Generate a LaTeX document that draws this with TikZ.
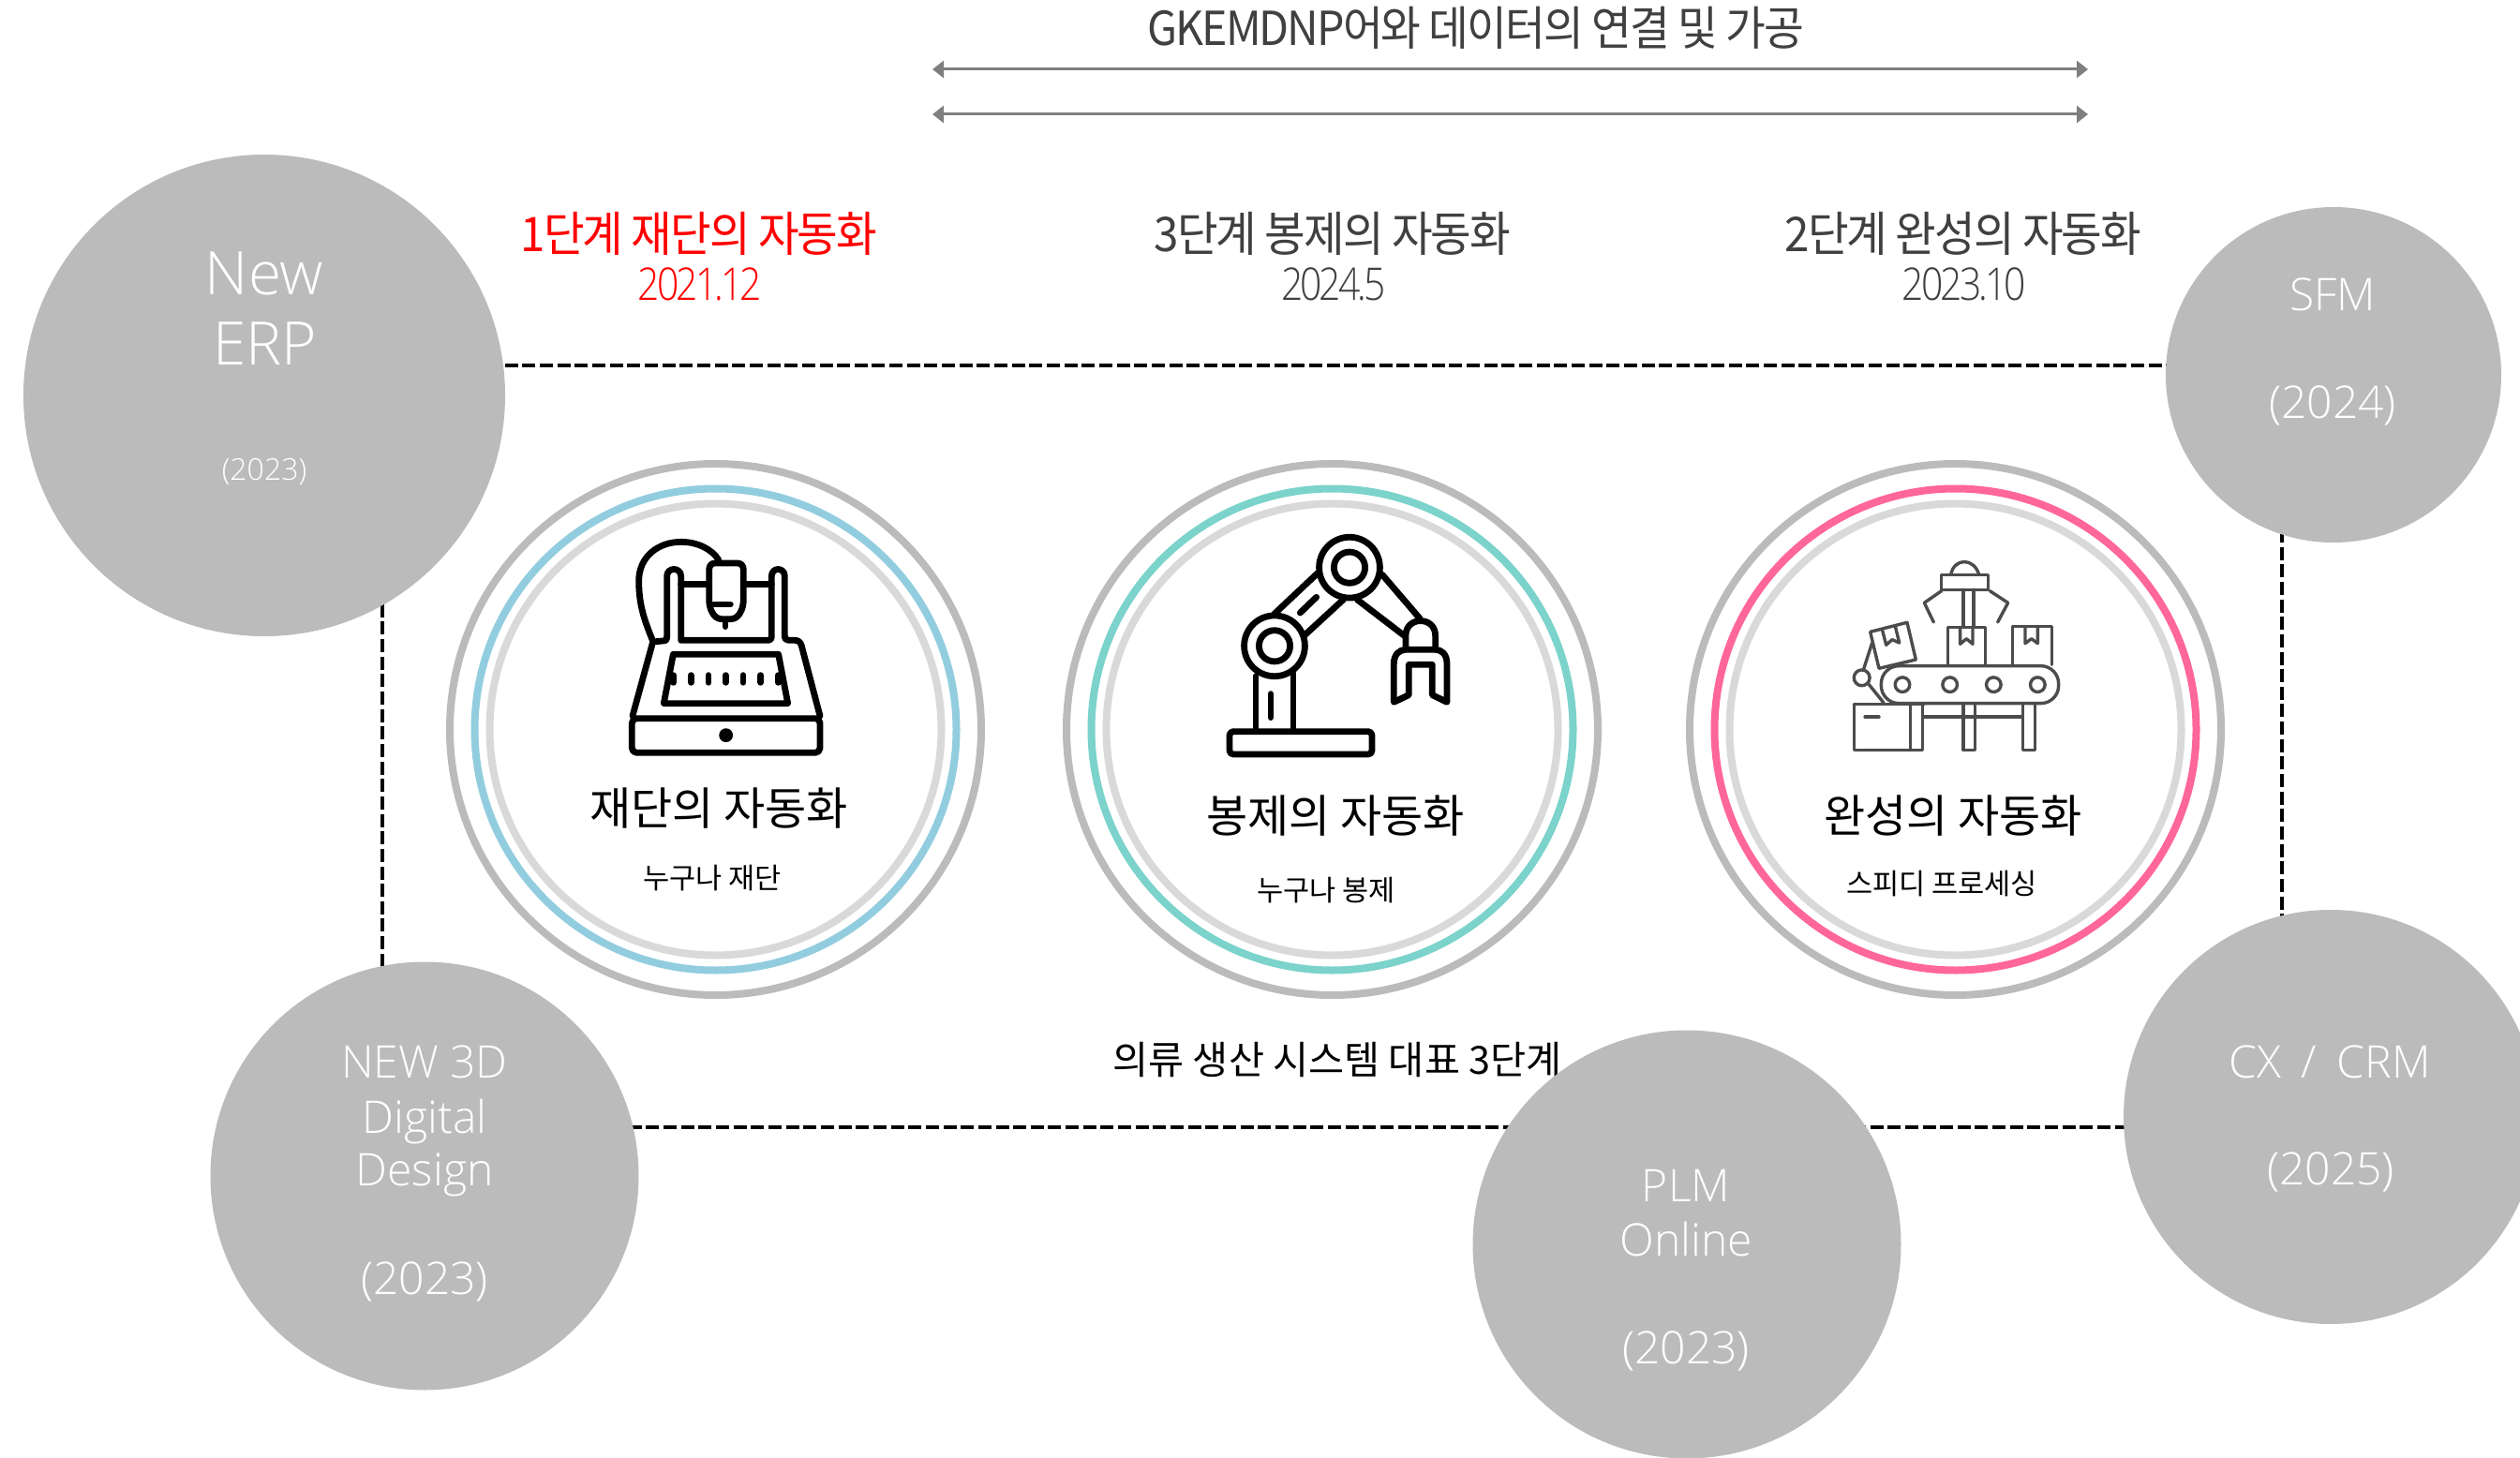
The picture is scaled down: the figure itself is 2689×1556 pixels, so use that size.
\documentclass[tikz,border=0pt]{standalone}
\usepackage{fontspec}
\setmainfont{Open Sans Light}
\newfontfamily\krtight[LetterSpace=-4,FakeStretch=0.93]{Noto Sans CJK KR}
\newfontfamily\krnorm{Noto Sans CJK KR}
\newfontfamily\ltf{Open Sans Light}
\newfontfamily\numtight[LetterSpace=-6,FakeStretch=0.85]{Open Sans Light}
\definecolor{cgray}{HTML}{BBBBBB}
\definecolor{ringlight}{HTML}{D9D9D9}
\definecolor{ringblue}{HTML}{92CDDF}
\definecolor{ringteal}{HTML}{7BD3CB}
\definecolor{ringpink}{HTML}{FF6699}
\definecolor{toptext}{HTML}{404040}
\definecolor{arrowgray}{HTML}{7F7F7F}
\usetikzlibrary{arrows.meta}
\tikzset{
  bubble/.style={circle,fill=cgray,draw=none,inner sep=0pt,minimum size=#1},
  ringo/.style={circle,draw=cgray,line width=4pt,inner sep=0pt,minimum size=567*0.5pt},
  ringc/.style={circle,line width=4pt,inner sep=0pt,minimum size=514*0.5pt},
  ringi/.style={circle,draw=ringlight,line width=4pt,inner sep=0pt,minimum size=482*0.5pt},
  bigw/.style={text=white,font=\ltf\fontsize{32}{32}\selectfont,inner sep=0pt},
  midw/.style={text=white,font=\ltf\fontsize{24}{24}\selectfont,inner sep=0pt},
  smallw/.style={text=white,font=\ltf\fontsize{16}{16}\selectfont,inner sep=0pt},
  head/.style={text=toptext,inner sep=0pt,font=\krtight\fontsize{25.5}{25.5}\selectfont},
  datehead/.style={text=toptext,inner sep=0pt,font=\numtight\fontsize{24}{24}\selectfont},
  ringtitle/.style={text=black,inner sep=0pt,font=\krnorm\fontsize{24}{24}\selectfont},
  ringsub/.style={text=black,inner sep=0pt,font=\krnorm\fontsize{15.3}{15.3}\selectfont},
  dashline/.style={black,line width=2.4pt,dash pattern=on 7pt off 2.33pt},
  dblarrow/.style={arrowgray,line width=1.5pt,{Triangle[width=9pt,length=6pt]}-{Triangle[width=9pt,length=6pt]}},
  iconk/.style={black,line width=3.4pt,line cap=round,line join=round},
  icong/.style={draw=black!70,line width=1.7pt,line cap=round,line join=round},
}
\begin{document}
\begin{tikzpicture}[x=0.5pt,y=-0.5pt]
\clip (0,0) rectangle (2689,1556);
\fill[white] (0,0) rectangle (2689,1556);

% dashed frame
\coordinate (f1) at (408,390);
\coordinate (f2) at (2435,390);
\coordinate (f3) at (2435,1203);
\coordinate (f4) at (408,1203);
\draw[dashline] (f1) -- (f2) -- (f3) -- (f4) -- cycle;

% arrows
\coordinate (a1) at (995,74);
\coordinate (a2) at (2228,74);
\coordinate (b1) at (995,122);
\coordinate (b2) at (2228,122);
\draw[dblarrow] (a1) -- (a2);
\draw[dblarrow] (b1) -- (b2);
\node[head,font=\krtight\fontsize{25}{25}\selectfont] (toplabel) at (1575,30) {GKEMDNP어와 데이터의 연결 및 가공};

% headings
\node[head,text=red] (h1) at (746,249) {1단계 재단의 자동화};
\node[datehead,text=red] (d1) at (747,303) {2021.12};
\node[head] (h2) at (1422,249) {3단계 봉제의 자동화};
\node[datehead] (d2) at (1423,303) {2024.5};
\node[head] (h3) at (2095,249) {2단계 완성의 자동화};
\node[datehead] (d3) at (2096,303) {2023.10};

% rings
\node[ringo] (r1o) at (763.5,778.5) {};
\node[ringc,draw=ringblue] (r1c) at (763.5,778.5) {};
\node[ringi] (r1i) at (763.5,778.5) {};
\node[ringo] (r2o) at (1421.5,778.5) {};
\node[ringc,draw=ringteal] (r2c) at (1421.5,778.5) {};
\node[ringi] (r2i) at (1421.5,778.5) {};
\node[ringo] (r3o) at (2086.5,778.5) {};
\node[ringc,draw=ringpink] (r3c) at (2086.5,778.5) {};
\node[ringi] (r3i) at (2086.5,778.5) {};

\node[ringtitle] (t1) at (767,863) {재단의 자동화};
\node[ringsub] (s1) at (760,937) {누구나 재단};
\node[ringtitle] (t2) at (1425,871) {봉제의 자동화};
\node[ringsub] (s2) at (1415,950) {누구나 봉제};
\node[ringtitle] (t3) at (2084,871) {완성의 자동화};
\node[ringsub] (s3) at (2072,943) {스피디 프로세싱};
\node[ringtitle,font=\krnorm\fontsize{20.7}{20.7}\selectfont] (caption) at (1427,1131) {의류 생산 시스템 대표 3단계};

% icon 1
\begin{scope}[shift={(620,540)},x=0.5pt/3,y=-0.5pt/3]
\draw[iconk,rounded corners=2.5pt] (163,680) rectangle (765,790);
\draw[iconk] (165,672) -- (230,435) -- (262,432) .. controls (275,432) and (275,425) .. (275,415) -- (275,225) .. controls (275,195) and (320,195) .. (320,225) -- (320,430) -- (600,430) .. controls (607,430) and (610,425) .. (610,415) -- (610,225) .. controls (610,195) and (652,195) .. (652,225) -- (652,415) .. controls (652,425) and (656,430) .. (665,430) -- (685,430) .. controls (697,430) and (703,437) .. (706,448) -- (765,672);
\draw[iconk] (320,250) -- (410,250);
\draw[iconk] (520,250) -- (610,250);
\draw[iconk] (410,205) .. controls (410,190) and (418,183) .. (430,183) -- (500,183) .. controls (512,183) and (520,190) .. (520,205) -- (520,300) .. controls (520,330) and (505,362) .. (480,362) -- (450,362) .. controls (425,362) and (410,330) .. (410,300) -- cycle;
\draw[iconk] (425,315) -- (478,315);
\draw[iconk] (462,370) -- (462,386);
\draw[iconk] (228,428) .. controls (205,370) and (185,320) .. (185,240) .. controls (185,160) and (250,115) .. (320,115) .. controls (375,115) and (420,140) .. (440,172);
\draw[iconk] (295,475) -- (632,475) -- (662,632) -- (265,632) -- cycle;
\foreach \dx in {296,352,408,463,519,575,631}{\draw[iconk] (\dx,542) -- (\dx,565);}
\fill[black] (464,734) circle (3.7pt);
\end{scope}

% icon 2
\begin{scope}[shift={(1280,550)},x=0.5pt/3,y=-0.5pt/3]
\draw[iconk,rounded corners=2pt] (96,692) rectangle (552,765);
\draw[iconk] (180,515) -- (180,690);
\draw[iconk] (300,500) -- (300,690);
\draw[iconk] (228,572) -- (228,647);
\draw[iconk] (240,315) -- (378,185);
\draw[iconk] (335,385) -- (460,270);
\draw[iconk] (322,312) -- (374,262);
\draw[iconk] (585,190) -- (705,330);
\draw[iconk] (505,270) -- (655,385);
\draw[iconk] (240,418) circle (16.2pt);
\draw[iconk] (240,418) circle (8.3pt);
\draw[iconk] (480,167) circle (16.2pt);
\draw[iconk] (480,167) circle (8.3pt);
\draw[iconk] (660,425) -- (660,385) .. controls (660,322) and (755,322) .. (755,385) -- (755,425);
\draw[iconk] (622,598) -- (622,475) .. controls (622,445) and (640,430) .. (660,430) -- (755,430) .. controls (775,430) and (792,445) .. (792,475) -- (792,598) -- (745,575) -- (745,478) -- (670,478) -- (670,575) -- cycle;
\end{scope}

% icon 3
\begin{scope}[shift={(1950,580)},x=0.5pt/3,y=-0.5pt/3]
\draw[icong,rounded corners=9.5pt] (172,392) rectangle (740,512);
\foreach \wx in {240,392,532,673}{\draw[icong] (\wx,452) circle (3.9pt);}
\draw[icong] (385,388) -- (385,268) -- (505,268) -- (505,388);
\draw[icong] (425,268) -- (425,322) -- (445,305) -- (465,322) -- (465,268);
\draw[icong] (593,388) -- (593,266) -- (718,266) -- (718,388);
\draw[icong] (633,266) -- (633,320) -- (653,305) -- (673,320) -- (673,266);
\draw[icong] (137,283) -- (255,253) -- (283,372) -- (165,400) -- cycle;
\draw[icong] (175,275) -- (188,325) -- (207,308) -- (230,318) -- (217,265);
\draw[icong] (365,100) -- (515,100) -- (515,148) -- (365,148) -- cycle;
\draw[icong] (395,100) .. controls (405,45) and (470,45) .. (485,100);
\draw[icong] (435,148) -- (435,268);
\draw[icong] (468,148) -- (468,268);
\draw[icong] (365,152) -- (310,190) -- (340,252);
\draw[icong] (520,152) -- (578,190) -- (545,252);
\draw[icong] (110,430) circle (4.2pt);
\draw[icong] (115,405) -- (143,318);
\draw[icong] (130,448) -- (180,510);
\draw[icong] (85,515) -- (310,515);
\draw[icong] (85,515) -- (85,662) -- (305,662) -- (305,515);
\draw[icong] (265,515) -- (265,662);
\draw[icong] (120,555) -- (165,555);
\draw[icong] (305,555) -- (625,555);
\draw[icong] (435,515) -- (435,662) -- (472,662) -- (472,515);
\draw[icong] (625,515) -- (625,662) -- (665,662) -- (665,515);
\end{scope}

% bubbles
\node[bubble=514*0.5pt] (erp) at (282,422) {};
\node[bubble=358*0.5pt] (sfm) at (2490,400) {};
\node[bubble=442*0.5pt] (crm) at (2487,1192) {};
\node[bubble=457*0.5pt] (plm) at (1800,1328) {};
\node[bubble=457*0.5pt] (ddd) at (453,1255) {};

\node[bigw] (e1) at (282,292) {New};
\node[bigw] (e2) at (283,367) {ERP};
\node[smallw] (e3) at (282,503) {(2023)};
\node[midw] (f1t) at (2489,314) {SFM};
\node[midw] (f2t) at (2489,433) {(2024)};
\node[midw] (c1) at (2486,1133) {CX\hspace{.45em}/\hspace{.45em}CRM};
\node[midw] (c2) at (2487,1251) {(2025)};
\node[midw] (p1) at (1799,1265) {PLM};
\node[midw] (p2) at (1799,1322) {Online};
\node[midw] (p3) at (1799,1442) {(2023)};
\node[midw] (n1) at (453,1133) {NEW 3D};
\node[midw] (n2) at (453,1197) {Digital};
\node[midw] (n3) at (453,1254) {Design};
\node[midw] (n4) at (453,1368) {(2023)};
\end{tikzpicture}
\end{document}
